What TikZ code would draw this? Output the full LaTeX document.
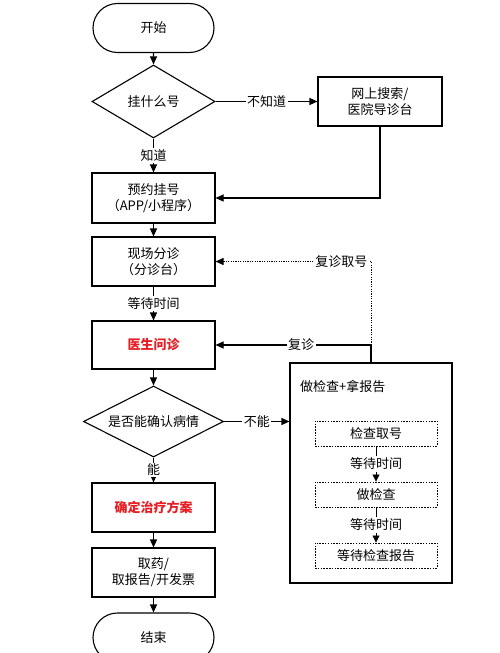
\documentclass[tikz,border=0pt]{standalone}
\usepackage{fontspec}
\setmainfont{Noto Sans CJK SC}
\usetikzlibrary{arrows.meta,shapes.geometric,shapes.misc}
\definecolor{hred}{RGB}{230,30,35}
\begin{document}
\begin{tikzpicture}[x=1pt,y=-1pt,
  every node/.style={font=\fontsize{13}{16}\selectfont, align=center, inner sep=1pt},
  line/.style={draw=black, line width=1.1pt},
  arr/.style={line, -{Triangle[length=8pt,width=7pt]}},
  box/.style={draw=black, line width=1.1pt, rectangle, minimum width=123pt, minimum height=49pt},
  term/.style={draw=black, line width=1.1pt, rounded rectangle, minimum width=123pt, minimum height=49pt},
  dec/.style={draw=black, line width=1.1pt, diamond, inner sep=0pt},
  lab/.style={fill=white, inner sep=1.5pt},
  ibox/.style={draw=black, line width=0.9pt, dash pattern=on 1.5pt off 1.3pt, rectangle, minimum width=122pt, minimum height=25pt},
  iarr/.style={draw=black, line width=0.8pt, -{Triangle[length=7pt,width=7pt]}}]
\useasboundingbox (0,0) rectangle (500,653);
\begin{scope}
\clip (0,0) rectangle (500,653);
\node[term] (start) at (153.5,28) {开始};
\node[dec, shape aspect=1.7, minimum width=123pt, minimum height=73pt] (d1) at (153.5,101.5) {挂什么号};
\node[box, minimum width=124pt] (web) at (380,101.5) {网上搜索/\\医院导诊台};
\node[box, minimum height=50pt] (b1) at (153.5,198) {预约挂号\\（APP/小程序）};
\node[box] (b2) at (153.5,261.5) {现场分诊\\（分诊台）};
\node[box, minimum height=48pt] (b3) at (153.5,345) {\textcolor{hred}{\bfseries 医生问诊}};
\node[dec, shape aspect=1.97, minimum width=140pt, minimum height=71pt] (d2) at (153.5,421.5) {是否能确认病情};
\node[box] (b4) at (153.5,507.5) {\textcolor{hred}{\bfseries 确定治疗方案}};
\node[box] (b5) at (153.5,572.5) {取药/\\取报告/开发票};
\node[term] (end) at (153.5,637.5) {结束};
\node[draw=black, line width=1.1pt, rectangle, minimum width=162pt, minimum height=220pt] (big) at (371,473) {};
\node[anchor=west] (bigt) at (299,386) {做检查+拿报告};
\node[ibox] (i1) at (376,433.5) {检查取号};
\node[ibox] (i2) at (376,494.5) {做检查};
\node[ibox] (i3) at (376,555.5) {等待检查报告};
\coordinate (j1) at (big.north |- b3.east);
\coordinate (j2) at (big.north |- b2.east);

\draw[arr] (start) -- (d1);
\draw[arr] (d1.east) -- node[lab] {不知道} (web.west);
\draw[arr] (d1.south) -- node[lab] {知道} (b1.north);
\draw[arr] (web.south) |- (b1.east);
\draw[arr] (b1) -- (b2);
\draw[arr] (b2.south) -- node[lab] {等待时间} (b3.north);
\draw[arr] (b3) -- (d2);
\draw[arr] (d2.south) -- node[lab] {能} (b4.north);
\draw[arr] (d2.east) -- node[lab] {不能} (big.west |- d2.east);
\draw[arr] (b4) -- (b5);
\draw[arr] (b5) -- (end);
\draw[line] (big.north) -- (j1);
\draw[arr] (j1) -- node[lab, pos=0.45] {复诊} (b3.east);
\draw[line, line width=0.9pt, dash pattern=on 1.2pt off 1.2pt] (j1) -- (j2);
\draw[line, line width=0.9pt, dash pattern=on 1.2pt off 1.2pt, -{Triangle[length=8pt,width=7pt]}] (j2) -- node[lab, pos=0.19] {复诊取号} (b2.east);
\draw[iarr] (i1.south) -- node[lab] {等待时间} (i2.north);
\draw[iarr] (i2.south) -- node[lab] {等待时间} (i3.north);
\end{scope}
\end{tikzpicture}
\end{document}
